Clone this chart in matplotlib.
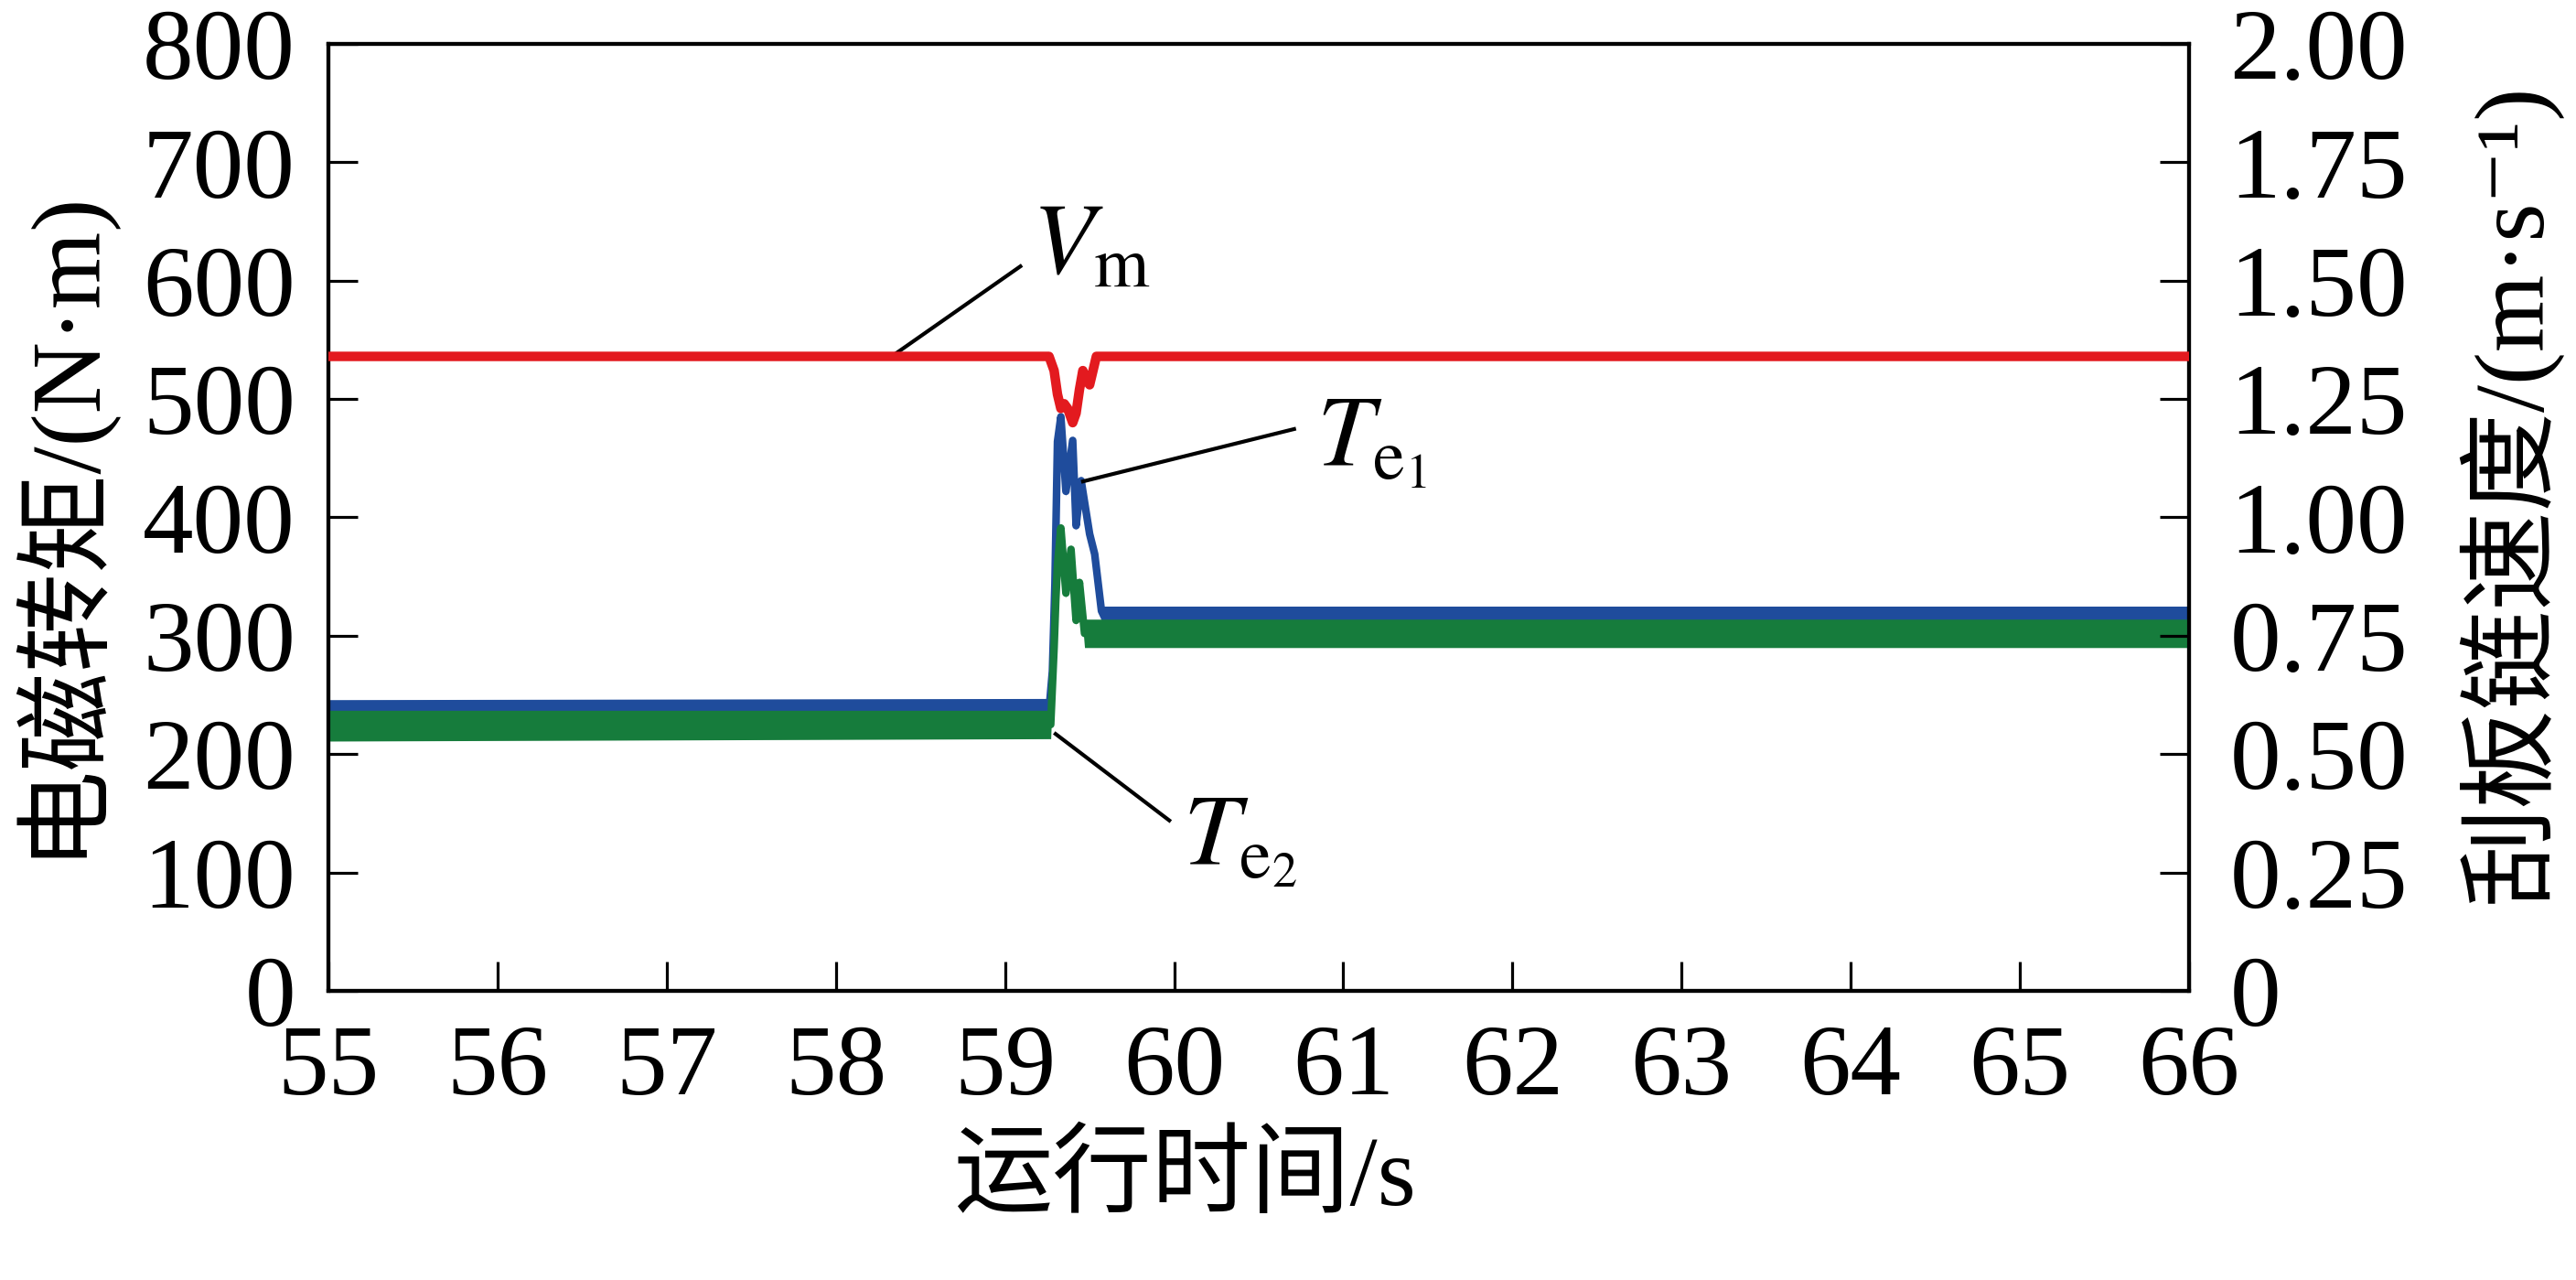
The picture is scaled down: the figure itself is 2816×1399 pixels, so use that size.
import numpy as np
import matplotlib
matplotlib.use("Agg")
import matplotlib.pyplot as plt

plt.rcParams['font.family'] = ['Liberation Serif', 'Noto Sans CJK SC', 'DejaVu Sans']
plt.rcParams['mathtext.fontset'] = 'stix'

# ---------------- data ----------------
x_ticks = [55, 56, 57, 58, 59, 60, 61, 62, 63, 64, 65, 66]
torque_ticks = [0, 100, 200, 300, 400, 500, 600, 700, 800]
speed_ticks = [0, 0.25, 0.50, 0.75, 1.00, 1.25, 1.50, 1.75, 2.00]
speed_tick_labels = ["0", "0.25", "0.50", "0.75", "1.00", "1.25", "1.50", "1.75", "2.00"]

# Te1 (blue) electromagnetic torque, N*m : time, envelope low/high, mid-line
te1_time = [55, 59.26, 59.28, 59.295, 59.31, 59.33, 59.36, 59.40, 59.42, 59.45, 59.50, 59.53, 59.55, 59.57, 59.60, 66]
te1_low = [226, 227, 266, 340, 460, 481, 418, 461, 389, 427, 382, 365, 341, 317, 300, 300]
te1_high = [246, 247, 274, 348, 468, 489, 426, 469, 397, 435, 390, 373, 349, 325, 325, 325]
te1_mid = [236, 237, 270, 344, 464, 485, 422, 465, 393, 431, 386, 369, 345, 321, 312, 312]

# Te2 (green) electromagnetic torque, N*m
te2_time = [55, 59.27, 59.29, 59.30, 59.31, 59.33, 59.36, 59.39, 59.42, 59.44, 59.47, 59.49, 66]
te2_low = [211, 213, 286, 326, 356, 387, 332, 369, 309, 341, 290, 290, 290]
te2_high = [237, 237, 294, 334, 364, 395, 340, 377, 317, 349, 314, 314, 314]
te2_mid = [224, 225, 290, 330, 360, 391, 336, 373, 313, 345, 302, 302, 302]

# Vm (red) scraper chain speed, m/s
vm_time = [55, 59.26, 59.29, 59.31, 59.33, 59.35, 59.37, 59.40, 59.42, 59.44, 59.46, 59.48, 59.50, 59.52, 59.54, 66]
vm_speed = [1.34, 1.34, 1.31, 1.26, 1.23, 1.24, 1.23, 1.20, 1.22, 1.27, 1.31, 1.29, 1.28, 1.31, 1.34, 1.34]

# ---------------- figure ----------------
fig = plt.figure(figsize=(28.16, 13.99), dpi=100)
ax1 = fig.add_axes([0.1275, 0.2259, 0.8498 - 0.1275, 0.9657 - 0.2259])
ax2 = ax1.twinx()

c_blue = '#1F4C9C'
c_green = '#167C3C'
c_red = '#E31A1F'

ax1.fill_between(te1_time, te1_low, te1_high, color=c_blue, linewidth=0, zorder=2)
ax1.plot(te1_time, te1_mid, color=c_blue, lw=6, solid_joinstyle='round', zorder=2)
ax1.fill_between(te2_time, te2_low, te2_high, color=c_green, linewidth=0, zorder=3)
ax1.plot(te2_time, te2_mid, color=c_green, lw=6, solid_joinstyle='round', zorder=3)

ax2.plot(vm_time, vm_speed, color=c_red, lw=7.5, solid_joinstyle='round', zorder=3)

ax1.set_xlim(55, 66)
ax1.set_ylim(0, 800)
ax2.set_ylim(0, 2)
ax1.set_xticks(x_ticks)
ax1.set_xticklabels([str(v) for v in x_ticks])
ax1.set_yticks(torque_ticks)
ax1.set_yticklabels([str(v) for v in torque_ticks])
ax2.set_yticks(speed_ticks)
ax2.set_yticklabels(speed_tick_labels)

for ax in (ax1, ax2):
    for s in ax.spines.values():
        s.set_linewidth(3)
ax1.tick_params(axis='x', direction='in', length=23, width=2.3, labelsize=80, pad=26, top=False)
ax1.tick_params(axis='y', direction='in', length=23, width=2.3, labelsize=80, pad=26, right=False)
ax2.tick_params(axis='y', direction='in', length=23, width=2.3, labelsize=80, pad=32)

# annotations (left-axis coordinates)
lk = dict(color='black', lw=3, solid_capstyle='butt', zorder=4)
ax1.plot([58.34, 59.10], [537, 613], **lk)
ax1.plot([59.45, 60.72], [430, 475], **lk)
ax1.plot([59.29, 59.98], [218, 143], **lk)
ax1.text(59.16, 605, r'$V_{\mathrm{m}}$', fontsize=80, ha='left', va='baseline')
ax1.text(60.84, 444, r'$T_{\mathrm{e}_1}$', fontsize=80, ha='left', va='baseline')
ax1.text(60.05, 107, r'$T_{\mathrm{e}_2}$', fontsize=80, ha='left', va='baseline')

# axis titles
fig.text(0.022, 0.593, '电磁转矩/(N·m)', rotation=90, ha='center', va='center', fontsize=78)
fig.text(0.974, 0.615, '刮板链速度/(m·s⁻¹)', rotation=90, ha='center', va='center', fontsize=78)
fig.text(0.46, 0.078, '运行时间/s', ha='center', va='center', fontsize=78)

fig.savefig('out.png', dpi=100)
